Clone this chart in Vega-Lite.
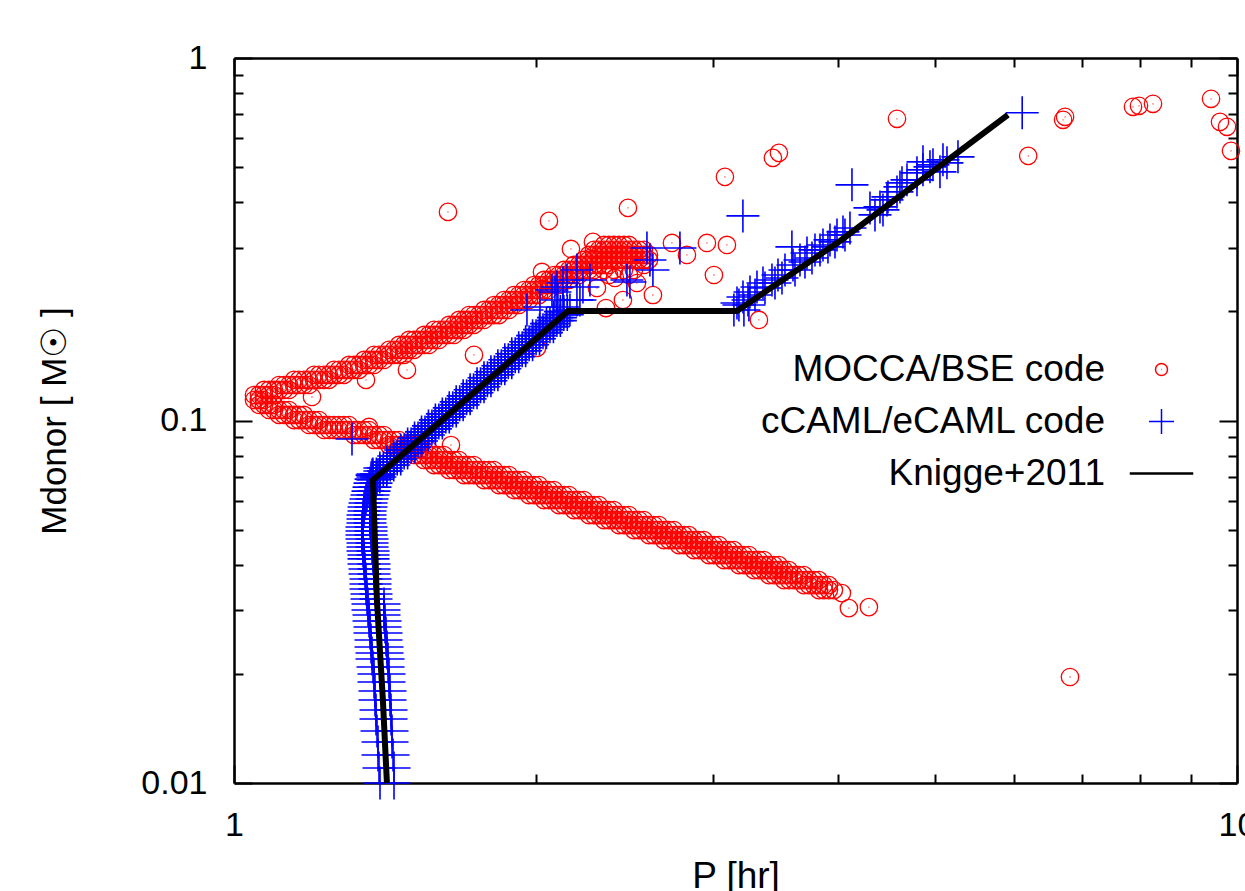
{
"$schema": "https://vega.github.io/schema/vega-lite/v6.json",
"width": 1003, "height": 725,
"autosize": {"type": "none"},
"padding": {"left": 234, "top": 58, "right": 8, "bottom": 108},
"background": "white",
"config": {
 "font": "Liberation Sans",
 "view": {"stroke": null},
 "axis": {"grid": false, "domainColor": "#000", "domainWidth": 2.5, "tickColor": "#000", "tickWidth": 2, "labelColor": "#000", "titleColor": "#000", "labelFont": "Liberation Sans", "titleFont": "Liberation Sans", "titleFontWeight": "normal", "labelFontSize": 34, "labelFlush": false, "labelOverlap": false},
 "legend": {"title": null, "orient": "none", "legendX": 529, "legendY": 293, "padding": 0, "labelFontSize": 37, "labelFont": "Liberation Sans", "labelColor": "#000", "labelLimit": 0, "rowPadding": 14, "labelAlign": "right", "symbolOffset": 380, "labelOffset": -75, "symbolSize": 400, "symbolStrokeWidth": 1.5, "symbolFillColor": "transparent"}
},
"datasets": {
"red": [
{"P":1.047,"M":0.1176},{"P":1.047,"M":0.1139},{"P":1.0591,"M":0.1139},{"P":1.0591,"M":0.1104},{"P":1.0713,"M":0.1139},{"P":1.0713,"M":0.1104},{"P":1.0837,"M":0.1104},{"P":1.0837,"M":0.1069},{"P":1.0962,"M":0.1104},{"P":1.0962,"M":0.1069},{"P":1.1088,"M":0.1069},{"P":1.1088,"M":0.1036},{"P":1.1216,"M":0.1069},{"P":1.1216,"M":0.1036},{"P":1.1346,"M":0.1069},{"P":1.1346,"M":0.1036},{"P":1.1477,"M":0.1036},{"P":1.1477,"M":0.1003},{"P":1.1609,"M":0.1036},{"P":1.1609,"M":0.1003},{"P":1.1743,"M":0.1036},{"P":1.1743,"M":0.1003},{"P":1.1879,"M":0.1003},{"P":1.1879,"M":0.09718},{"P":1.2016,"M":0.1003},{"P":1.2016,"M":0.09718},{"P":1.2154,"M":0.1003},{"P":1.2154,"M":0.09718},{"P":1.2295,"M":0.09718},{"P":1.2295,"M":0.09414},{"P":1.2437,"M":0.09718},{"P":1.2437,"M":0.09414},{"P":1.258,"M":0.09718},{"P":1.258,"M":0.09414},{"P":1.2725,"M":0.09718},{"P":1.2725,"M":0.09414},{"P":1.2872,"M":0.09718},{"P":1.2872,"M":0.09414},{"P":1.3021,"M":0.09718},{"P":1.3021,"M":0.09414},{"P":1.3171,"M":0.09414},{"P":1.3171,"M":0.09119},{"P":1.3323,"M":0.09414},{"P":1.3323,"M":0.09119},{"P":1.3477,"M":0.09414},{"P":1.3477,"M":0.09119},{"P":1.3633,"M":0.09414},{"P":1.3633,"M":0.09119},{"P":1.379,"M":0.09119},{"P":1.379,"M":0.08834},{"P":1.3949,"M":0.09119},{"P":1.3949,"M":0.08834},{"P":1.411,"M":0.09119},{"P":1.411,"M":0.08834},{"P":1.4273,"M":0.08834},{"P":1.4273,"M":0.08558},{"P":1.4438,"M":0.08834},{"P":1.4438,"M":0.08558},{"P":1.4604,"M":0.08834},{"P":1.4604,"M":0.08558},{"P":1.4604,"M":0.0829},{"P":1.4773,"M":0.08558},{"P":1.4773,"M":0.0829},{"P":1.4943,"M":0.08558},{"P":1.4943,"M":0.0829},
{"P":1.0591,"M":0.1176},{"P":1.0591,"M":0.1139},{"P":1.0713,"M":0.1214},{"P":1.0713,"M":0.1176},{"P":1.0837,"M":0.1214},{"P":1.0837,"M":0.1176},{"P":1.0962,"M":0.1214},{"P":1.0962,"M":0.1176},{"P":1.1088,"M":0.1253},{"P":1.1088,"M":0.1214},{"P":1.1216,"M":0.1253},{"P":1.1216,"M":0.1214},{"P":1.1346,"M":0.1253},{"P":1.1346,"M":0.1214},{"P":1.1477,"M":0.1294},{"P":1.1477,"M":0.1253},{"P":1.1609,"M":0.1294},{"P":1.1609,"M":0.1253},{"P":1.1743,"M":0.1294},{"P":1.1743,"M":0.1253},{"P":1.1879,"M":0.1294},{"P":1.1879,"M":0.1253},{"P":1.2016,"M":0.1336},{"P":1.2016,"M":0.1294},{"P":1.2154,"M":0.1336},{"P":1.2154,"M":0.1294},{"P":1.2295,"M":0.1336},{"P":1.2295,"M":0.1294},{"P":1.2437,"M":0.1336},{"P":1.2437,"M":0.1294},{"P":1.258,"M":0.1379},{"P":1.258,"M":0.1336},{"P":1.2725,"M":0.1379},{"P":1.2725,"M":0.1336},{"P":1.2872,"M":0.1379},{"P":1.2872,"M":0.1336},{"P":1.3021,"M":0.1423},{"P":1.3021,"M":0.1379},{"P":1.3171,"M":0.1423},{"P":1.3171,"M":0.1379},{"P":1.3323,"M":0.1423},{"P":1.3323,"M":0.1379},{"P":1.3477,"M":0.1469},{"P":1.3477,"M":0.1423},{"P":1.3633,"M":0.1469},{"P":1.3633,"M":0.1423},{"P":1.379,"M":0.1517},{"P":1.379,"M":0.1469},{"P":1.379,"M":0.1423},{"P":1.3949,"M":0.1517},{"P":1.3949,"M":0.1469},{"P":1.411,"M":0.1517},{"P":1.411,"M":0.1469},{"P":1.4273,"M":0.1566},{"P":1.4273,"M":0.1517},{"P":1.4438,"M":0.1566},{"P":1.4438,"M":0.1517},{"P":1.4604,"M":0.1616},{"P":1.4604,"M":0.1566},{"P":1.4604,"M":0.1517},{"P":1.4773,"M":0.1616},{"P":1.4773,"M":0.1566},{"P":1.4773,"M":0.1517},{"P":1.4943,"M":0.1668},{"P":1.4943,"M":0.1616},{"P":1.4943,"M":0.1566},{"P":1.5116,"M":0.1668},{"P":1.5116,"M":0.1616},{"P":1.5116,"M":0.1566},{"P":1.529,"M":0.1668},{"P":1.529,"M":0.1616},{"P":1.5467,"M":0.1722},{"P":1.5467,"M":0.1668},{"P":1.5467,"M":0.1616},{"P":1.5645,"M":0.1722},{"P":1.5645,"M":0.1668},{"P":1.5645,"M":0.1616},{"P":1.5826,"M":0.1778},{"P":1.5826,"M":0.1722},{"P":1.5826,"M":0.1668},{"P":1.6009,"M":0.1778},{"P":1.6009,"M":0.1722},{"P":1.6009,"M":0.1668},{"P":1.6193,"M":0.1778},{"P":1.6193,"M":0.1722},{"P":1.638,"M":0.1835},{"P":1.638,"M":0.1778},{"P":1.638,"M":0.1722},{"P":1.6569,"M":0.1835},{"P":1.6569,"M":0.1778},{"P":1.6569,"M":0.1722},{"P":1.6761,"M":0.1894},{"P":1.6761,"M":0.1835},{"P":1.6761,"M":0.1778},{"P":1.6954,"M":0.1894},{"P":1.6954,"M":0.1835},{"P":1.6954,"M":0.1778},{"P":1.715,"M":0.1954},{"P":1.715,"M":0.1894},{"P":1.715,"M":0.1835},{"P":1.7348,"M":0.1954},{"P":1.7348,"M":0.1894},{"P":1.7348,"M":0.1835},{"P":1.7548,"M":0.1954},{"P":1.7548,"M":0.1894},{"P":1.7751,"M":0.2018},{"P":1.7751,"M":0.1954},{"P":1.7751,"M":0.1894},{"P":1.7955,"M":0.2018},{"P":1.7955,"M":0.1954},{"P":1.8163,"M":0.2083},{"P":1.8163,"M":0.2018},{"P":1.8163,"M":0.1954},{"P":1.8372,"M":0.2083},{"P":1.8372,"M":0.2018},{"P":1.8372,"M":0.1954},{"P":1.8584,"M":0.215},{"P":1.8584,"M":0.2083},{"P":1.8584,"M":0.2018},{"P":1.8799,"M":0.215},{"P":1.8799,"M":0.2083},{"P":1.8799,"M":0.2018},{"P":1.9016,"M":0.2219},{"P":1.9016,"M":0.215},{"P":1.9016,"M":0.2083},{"P":1.9235,"M":0.2219},{"P":1.9235,"M":0.215},{"P":1.9235,"M":0.2083},{"P":1.9457,"M":0.2291},{"P":1.9457,"M":0.2219},{"P":1.9457,"M":0.215},{"P":1.9682,"M":0.2291},{"P":1.9682,"M":0.2219},{"P":1.9682,"M":0.215},{"P":1.9909,"M":0.2365},{"P":1.9909,"M":0.2291},{"P":1.9909,"M":0.2219},{"P":2.0139,"M":0.2365},{"P":2.0139,"M":0.2291},{"P":2.0139,"M":0.2219},{"P":2.0371,"M":0.2442},{"P":2.0371,"M":0.2365},{"P":2.0371,"M":0.2291},{"P":2.0607,"M":0.2442},{"P":2.0607,"M":0.2365},{"P":2.0607,"M":0.2291},{"P":2.0844,"M":0.252},{"P":2.0844,"M":0.2442},{"P":2.0844,"M":0.2365},{"P":2.1085,"M":0.252},{"P":2.1085,"M":0.2442},{"P":2.1085,"M":0.2365},{"P":2.1328,"M":0.2602},{"P":2.1328,"M":0.252},{"P":2.1328,"M":0.2442},{"P":2.1575,"M":0.2602},{"P":2.1575,"M":0.252},{"P":2.1575,"M":0.2442},{"P":2.1824,"M":0.2686},{"P":2.1824,"M":0.2602},{"P":2.1824,"M":0.252},{"P":2.2075,"M":0.2686},{"P":2.2075,"M":0.2602},{"P":2.2075,"M":0.252},{"P":2.233,"M":0.2773},{"P":2.233,"M":0.2686},{"P":2.233,"M":0.2602},{"P":2.2588,"M":0.2862},{"P":2.2588,"M":0.2773},{"P":2.2588,"M":0.2686},{"P":2.2588,"M":0.2602},{"P":2.2849,"M":0.2955},{"P":2.2849,"M":0.2862},{"P":2.2849,"M":0.2773},{"P":2.2849,"M":0.2686},{"P":2.2849,"M":0.2602},{"P":2.3112,"M":0.2955},{"P":2.3112,"M":0.2862},{"P":2.3112,"M":0.2773},{"P":2.3112,"M":0.2686},{"P":2.3379,"M":0.305},{"P":2.3379,"M":0.2955},{"P":2.3379,"M":0.2862},{"P":2.3379,"M":0.2773},{"P":2.3379,"M":0.2686},{"P":2.3379,"M":0.2602},{"P":2.3649,"M":0.305},{"P":2.3649,"M":0.2955},{"P":2.3649,"M":0.2862},{"P":2.3649,"M":0.2773},{"P":2.3649,"M":0.2686},{"P":2.3649,"M":0.252},{"P":2.3922,"M":0.305},{"P":2.3922,"M":0.2955},{"P":2.3922,"M":0.2862},{"P":2.3922,"M":0.2773},{"P":2.3922,"M":0.2602},{"P":2.4198,"M":0.305},{"P":2.4198,"M":0.2955},{"P":2.4198,"M":0.2862},{"P":2.4198,"M":0.2773},{"P":2.4478,"M":0.305},{"P":2.4478,"M":0.2955},{"P":2.4478,"M":0.2862},{"P":2.4478,"M":0.2773},{"P":2.4478,"M":0.2602},{"P":2.476,"M":0.305},{"P":2.476,"M":0.2955},{"P":2.476,"M":0.2862},{"P":2.476,"M":0.2773},{"P":2.476,"M":0.252},{"P":2.5046,"M":0.2955},{"P":2.5046,"M":0.2862},{"P":2.5046,"M":0.2773},{"P":2.5046,"M":0.2602},{"P":2.5335,"M":0.2955},{"P":2.5335,"M":0.2862},{"P":2.5335,"M":0.2773},{"P":2.5627,"M":0.2955},{"P":2.5627,"M":0.2862},{"P":2.5627,"M":0.2773},{"P":2.5627,"M":0.2686},{"P":2.5923,"M":0.2862},{"P":2.5923,"M":0.2773},
{"P":1.5116,"M":0.08558},{"P":1.5116,"M":0.0829},{"P":1.5116,"M":0.08031},{"P":1.529,"M":0.08558},{"P":1.529,"M":0.0829},{"P":1.529,"M":0.08031},{"P":1.5467,"M":0.0829},{"P":1.5467,"M":0.08031},{"P":1.5467,"M":0.0778},{"P":1.5645,"M":0.0829},{"P":1.5645,"M":0.08031},{"P":1.5645,"M":0.0778},{"P":1.5826,"M":0.08031},{"P":1.5826,"M":0.0778},{"P":1.5826,"M":0.07536},{"P":1.6009,"M":0.08031},{"P":1.6009,"M":0.0778},{"P":1.6009,"M":0.07536},{"P":1.6193,"M":0.08031},{"P":1.6193,"M":0.0778},{"P":1.6193,"M":0.07536},{"P":1.638,"M":0.0778},{"P":1.638,"M":0.07536},{"P":1.638,"M":0.07301},{"P":1.6569,"M":0.0778},{"P":1.6569,"M":0.07536},{"P":1.6569,"M":0.07301},{"P":1.6761,"M":0.0778},{"P":1.6761,"M":0.07536},{"P":1.6761,"M":0.07301},{"P":1.6954,"M":0.07536},{"P":1.6954,"M":0.07301},{"P":1.6954,"M":0.07072},{"P":1.715,"M":0.07536},{"P":1.715,"M":0.07301},{"P":1.715,"M":0.07072},{"P":1.7348,"M":0.07536},{"P":1.7348,"M":0.07301},{"P":1.7348,"M":0.07072},{"P":1.7548,"M":0.07301},{"P":1.7548,"M":0.07072},{"P":1.7751,"M":0.07301},{"P":1.7751,"M":0.07072},{"P":1.7751,"M":0.06851},{"P":1.7955,"M":0.07301},{"P":1.7955,"M":0.07072},{"P":1.7955,"M":0.06851},{"P":1.8163,"M":0.07301},{"P":1.8163,"M":0.07072},{"P":1.8163,"M":0.06851},{"P":1.8372,"M":0.07072},{"P":1.8372,"M":0.06851},{"P":1.8372,"M":0.06637},{"P":1.8584,"M":0.07072},{"P":1.8584,"M":0.06851},{"P":1.8584,"M":0.06637},{"P":1.8799,"M":0.07072},{"P":1.8799,"M":0.06851},{"P":1.8799,"M":0.06637},{"P":1.9016,"M":0.06851},{"P":1.9016,"M":0.06637},{"P":1.9016,"M":0.06429},{"P":1.9235,"M":0.06851},{"P":1.9235,"M":0.06637},{"P":1.9235,"M":0.06429},{"P":1.9457,"M":0.06851},{"P":1.9457,"M":0.06637},{"P":1.9457,"M":0.06429},{"P":1.9682,"M":0.06637},{"P":1.9682,"M":0.06429},{"P":1.9682,"M":0.06228},{"P":1.9909,"M":0.06637},{"P":1.9909,"M":0.06429},{"P":1.9909,"M":0.06228},{"P":2.0139,"M":0.06637},{"P":2.0139,"M":0.06429},{"P":2.0139,"M":0.06228},{"P":2.0371,"M":0.06429},{"P":2.0371,"M":0.06228},{"P":2.0371,"M":0.06033},{"P":2.0607,"M":0.06429},{"P":2.0607,"M":0.06228},{"P":2.0607,"M":0.06033},{"P":2.0844,"M":0.06429},{"P":2.0844,"M":0.06228},{"P":2.0844,"M":0.06033},{"P":2.1085,"M":0.06228},{"P":2.1085,"M":0.06033},{"P":2.1085,"M":0.05845},{"P":2.1328,"M":0.06228},{"P":2.1328,"M":0.06033},{"P":2.1328,"M":0.05845},{"P":2.1575,"M":0.06228},{"P":2.1575,"M":0.06033},{"P":2.1575,"M":0.05845},{"P":2.1824,"M":0.06033},{"P":2.1824,"M":0.05845},{"P":2.1824,"M":0.05662},{"P":2.2075,"M":0.06033},{"P":2.2075,"M":0.05845},{"P":2.2075,"M":0.05662},{"P":2.233,"M":0.06033},{"P":2.233,"M":0.05845},{"P":2.233,"M":0.05662},{"P":2.2588,"M":0.05845},{"P":2.2588,"M":0.05662},{"P":2.2588,"M":0.05485},{"P":2.2849,"M":0.05845},{"P":2.2849,"M":0.05662},{"P":2.2849,"M":0.05485},{"P":2.3112,"M":0.05845},{"P":2.3112,"M":0.05662},{"P":2.3112,"M":0.05485},{"P":2.3379,"M":0.05662},{"P":2.3379,"M":0.05485},{"P":2.3379,"M":0.05313},{"P":2.3649,"M":0.05662},{"P":2.3649,"M":0.05485},{"P":2.3649,"M":0.05313},{"P":2.3922,"M":0.05662},{"P":2.3922,"M":0.05485},{"P":2.3922,"M":0.05313},{"P":2.4198,"M":0.05485},{"P":2.4198,"M":0.05313},{"P":2.4198,"M":0.05147},{"P":2.4478,"M":0.05485},{"P":2.4478,"M":0.05313},{"P":2.4478,"M":0.05147},{"P":2.476,"M":0.05485},{"P":2.476,"M":0.05313},{"P":2.476,"M":0.05147},{"P":2.5046,"M":0.05313},{"P":2.5046,"M":0.05147},{"P":2.5046,"M":0.04986},{"P":2.5335,"M":0.05313},{"P":2.5335,"M":0.05147},{"P":2.5335,"M":0.04986},{"P":2.5627,"M":0.05313},{"P":2.5627,"M":0.05147},{"P":2.5627,"M":0.04986},{"P":2.5923,"M":0.05147},{"P":2.5923,"M":0.04986},{"P":2.5923,"M":0.0483},{"P":2.6222,"M":0.05147},{"P":2.6222,"M":0.04986},{"P":2.6222,"M":0.0483},{"P":2.6525,"M":0.05147},{"P":2.6525,"M":0.04986},{"P":2.6525,"M":0.0483},{"P":2.6831,"M":0.04986},{"P":2.6831,"M":0.0483},{"P":2.6831,"M":0.04679},{"P":2.7141,"M":0.04986},{"P":2.7141,"M":0.0483},{"P":2.7141,"M":0.04679},{"P":2.7454,"M":0.04986},{"P":2.7454,"M":0.0483},{"P":2.7454,"M":0.04679},{"P":2.7771,"M":0.0483},{"P":2.7771,"M":0.04679},{"P":2.7771,"M":0.04533},{"P":2.8092,"M":0.0483},{"P":2.8092,"M":0.04679},{"P":2.8092,"M":0.04533},{"P":2.8416,"M":0.0483},{"P":2.8416,"M":0.04679},{"P":2.8416,"M":0.04533},{"P":2.8744,"M":0.04679},{"P":2.8744,"M":0.04533},{"P":2.8744,"M":0.04391},{"P":2.9076,"M":0.04679},{"P":2.9076,"M":0.04533},{"P":2.9076,"M":0.04391},{"P":2.9411,"M":0.04679},{"P":2.9411,"M":0.04533},{"P":2.9411,"M":0.04391},{"P":2.9751,"M":0.04533},{"P":2.9751,"M":0.04391},{"P":2.9751,"M":0.04254},{"P":3.0094,"M":0.04533},{"P":3.0094,"M":0.04391},{"P":3.0094,"M":0.04254},{"P":3.0442,"M":0.04533},{"P":3.0442,"M":0.04391},{"P":3.0442,"M":0.04254},{"P":3.0793,"M":0.04391},{"P":3.0793,"M":0.04254},{"P":3.0793,"M":0.04121},{"P":3.1148,"M":0.04391},{"P":3.1148,"M":0.04254},{"P":3.1148,"M":0.04121},{"P":3.1508,"M":0.04391},{"P":3.1508,"M":0.04254},{"P":3.1508,"M":0.04121},{"P":3.1872,"M":0.04254},{"P":3.1872,"M":0.04121},{"P":3.1872,"M":0.03992},{"P":3.224,"M":0.04254},{"P":3.224,"M":0.04121},{"P":3.224,"M":0.03992},{"P":3.2612,"M":0.04254},{"P":3.2612,"M":0.04121},{"P":3.2612,"M":0.03992},{"P":3.2988,"M":0.04121},{"P":3.2988,"M":0.03992},{"P":3.2988,"M":0.03867},{"P":3.3369,"M":0.04121},{"P":3.3369,"M":0.03992},{"P":3.3369,"M":0.03867},{"P":3.3754,"M":0.04121},{"P":3.3754,"M":0.03992},{"P":3.3754,"M":0.03867},{"P":3.4144,"M":0.03992},{"P":3.4144,"M":0.03867},{"P":3.4144,"M":0.03746},{"P":3.4538,"M":0.03992},{"P":3.4538,"M":0.03867},{"P":3.4538,"M":0.03746},{"P":3.4936,"M":0.03992},{"P":3.4936,"M":0.03867},{"P":3.4936,"M":0.03746},{"P":3.534,"M":0.03867},{"P":3.534,"M":0.03746},{"P":3.534,"M":0.03629},{"P":3.5748,"M":0.03867},{"P":3.5748,"M":0.03746},{"P":3.5748,"M":0.03629},{"P":3.616,"M":0.03746},{"P":3.616,"M":0.03629},{"P":3.6578,"M":0.03746},{"P":3.6578,"M":0.03629},{"P":3.7,"M":0.03746},{"P":3.7,"M":0.03629},{"P":3.7,"M":0.03515},{"P":3.7427,"M":0.03629},{"P":3.7427,"M":0.03515},{"P":3.7859,"M":0.03629},{"P":3.7859,"M":0.03515},{"P":3.8296,"M":0.03629},{"P":3.8296,"M":0.03515},{"P":3.8296,"M":0.03405},{"P":3.8738,"M":0.03515},{"P":3.8738,"M":0.03405},{"P":3.9185,"M":0.03515},{"P":3.9185,"M":0.03405},{"P":3.9637,"M":0.03405},{"P":4.0372,"M":0.03341},{"P":4.1026,"M":0.03037},{"P":4.2953,"M":0.03057},
{"P":1.6343,"M":0.3762},{"P":2.0607,"M":0.3553},{"P":2.1674,"M":0.2973},{"P":2.2796,"M":0.3109},{"P":2.4703,"M":0.3859},{"P":3.0864,"M":0.47},{"P":3.4458,"M":0.5303},{"P":3.4936,"M":0.5474},{"P":2.7329,"M":0.3089},{"P":2.9615,"M":0.3089},{"P":3.1006,"M":0.305},{"P":3.0094,"M":0.252},{"P":2.8286,"M":0.2862},{"P":2.6162,"M":0.2219},{"P":2.4421,"M":0.215},{"P":2.3487,"M":0.2043},{"P":2.3006,"M":0.232},{"P":2.5219,"M":0.2395},{"P":2.3977,"M":0.2473},{"P":2.0278,"M":0.2569},{"P":2.0047,"M":0.1586},{"P":3.3369,"M":0.1894},{"P":4.5814,"M":0.6796},{"P":6.1918,"M":0.5371},{"P":6.7078,"M":0.6753},{"P":6.7386,"M":0.6883},{"P":7.876,"M":0.7335},{"P":7.985,"M":0.7381},{"P":8.246,"M":0.7476},{"P":9.421,"M":0.7717},{"P":9.617,"M":0.6667},{"P":9.773,"M":0.6459},{"P":9.863,"M":0.5545},{"P":6.8155,"M":0.019606},{"P":1.3539,"M":0.1294},{"P":1.4875,"M":0.1379},{"P":1.7348,"M":0.1517},{"P":1.1961,"M":0.1161},{"P":1.3633,"M":0.096},{"P":1.6456,"M":0.0856}
],
"blue": [
{"P":1.3982,"M":0.01},{"P":1.4439,"M":0.01},{"P":1.395,"M":0.011},{"P":1.4439,"M":0.011},{"P":1.3918,"M":0.01195},{"P":1.4406,"M":0.01195},{"P":1.3918,"M":0.01298},{"P":1.4373,"M":0.01298},{"P":1.3886,"M":0.01391},{"P":1.4373,"M":0.01391},{"P":1.3854,"M":0.01502},{"P":1.434,"M":0.01502},{"P":1.3854,"M":0.0159},{"P":1.434,"M":0.0159},{"P":1.3822,"M":0.01694},{"P":1.4307,"M":0.01694},{"P":1.3822,"M":0.01794},{"P":1.4307,"M":0.01794},{"P":1.3791,"M":0.01899},{"P":1.4274,"M":0.01899},{"P":1.3791,"M":0.01998},{"P":1.4274,"M":0.01998},{"P":1.3759,"M":0.02089},{"P":1.4242,"M":0.02089},{"P":1.3728,"M":0.02198},{"P":1.4242,"M":0.02198},{"P":1.3728,"M":0.02284},{"P":1.4209,"M":0.02284},{"P":1.3697,"M":0.02372},{"P":1.4209,"M":0.02372},{"P":1.3697,"M":0.0248},{"P":1.4176,"M":0.0248},{"P":1.3665,"M":0.02593},{"P":1.4176,"M":0.02593},{"P":1.3665,"M":0.02694},{"P":1.4144,"M":0.02694},{"P":1.3634,"M":0.02798},{"P":1.4144,"M":0.02798},{"P":1.3634,"M":0.02907},{"P":1.4111,"M":0.02907},{"P":1.3602,"M":0.03001},{"P":1.4111,"M":0.03001},{"P":1.3602,"M":0.03118},{"P":1.4111,"M":0.03118},
{"P":1.3571,"M":0.03218},{"P":1.3854,"M":0.03218},{"P":1.3571,"M":0.03322},{"P":1.3854,"M":0.03322},{"P":1.354,"M":0.0343},{"P":1.3822,"M":0.0343},{"P":1.354,"M":0.03541},{"P":1.3822,"M":0.03541},{"P":1.354,"M":0.03655},{"P":1.3822,"M":0.03655},{"P":1.3509,"M":0.03773},{"P":1.3791,"M":0.03773},{"P":1.3509,"M":0.03895},{"P":1.3791,"M":0.03895},{"P":1.3478,"M":0.04021},{"P":1.3791,"M":0.04021},{"P":1.3478,"M":0.04151},{"P":1.3759,"M":0.04151},{"P":1.3478,"M":0.04257},{"P":1.3759,"M":0.04257},{"P":1.3447,"M":0.04365},{"P":1.3759,"M":0.04365},{"P":1.3447,"M":0.04478},{"P":1.3728,"M":0.04478},{"P":1.3447,"M":0.04593},{"P":1.3728,"M":0.04593},{"P":1.3416,"M":0.04711},{"P":1.3728,"M":0.04711},{"P":1.3416,"M":0.04832},{"P":1.3697,"M":0.04832},{"P":1.3416,"M":0.04956},{"P":1.3697,"M":0.04956},{"P":1.3416,"M":0.05083},{"P":1.3697,"M":0.05083},{"P":1.3447,"M":0.05214},{"P":1.3665,"M":0.05214},{"P":1.3447,"M":0.05348},{"P":1.3665,"M":0.05348},{"P":1.3447,"M":0.05485},{"P":1.3665,"M":0.05485},{"P":1.3478,"M":0.05626},{"P":1.3665,"M":0.05626},{"P":1.3478,"M":0.05771},{"P":1.3697,"M":0.05771},{"P":1.3509,"M":0.05919},{"P":1.3697,"M":0.05919},{"P":1.354,"M":0.06071},{"P":1.3728,"M":0.06071},{"P":1.3571,"M":0.06227},{"P":1.3759,"M":0.06227},{"P":1.3602,"M":0.06387},{"P":1.3791,"M":0.06387},{"P":1.3634,"M":0.06551},{"P":1.3822,"M":0.06551},{"P":1.3665,"M":0.06719},{"P":1.3854,"M":0.06719},{"P":1.3697,"M":0.06892},{"P":1.3886,"M":0.06892},{"P":1.3728,"M":0.07069},{"P":1.3918,"M":0.07069},
{"P":1.3756,"M":0.0685},{"P":1.3866,"M":0.06982},{"P":1.3977,"M":0.07117},{"P":1.4089,"M":0.07254},{"P":1.4202,"M":0.07394},{"P":1.4315,"M":0.07537},{"P":1.443,"M":0.07682},{"P":1.4545,"M":0.0783},{"P":1.4662,"M":0.07981},{"P":1.4779,"M":0.08135},{"P":1.4897,"M":0.08292},{"P":1.5016,"M":0.08452},{"P":1.5136,"M":0.08615},{"P":1.5258,"M":0.08781},{"P":1.538,"M":0.08951},{"P":1.5503,"M":0.09124},{"P":1.5627,"M":0.093},{"P":1.5752,"M":0.09479},{"P":1.5878,"M":0.09662},{"P":1.6005,"M":0.09848},{"P":1.6133,"M":0.10038},{"P":1.6262,"M":0.10232},{"P":1.6392,"M":0.10429},{"P":1.6523,"M":0.1063},{"P":1.6655,"M":0.10835},{"P":1.6789,"M":0.11044},{"P":1.6923,"M":0.11257},{"P":1.7058,"M":0.11474},{"P":1.7195,"M":0.11696},{"P":1.7332,"M":0.11922},{"P":1.7471,"M":0.12152},{"P":1.7611,"M":0.12386},{"P":1.7752,"M":0.12625},{"P":1.7894,"M":0.12869},{"P":1.8037,"M":0.13117},{"P":1.8181,"M":0.1337},{"P":1.8327,"M":0.13628},{"P":1.8473,"M":0.13891},{"P":1.8621,"M":0.14159},{"P":1.877,"M":0.14432},{"P":1.892,"M":0.14711},{"P":1.9072,"M":0.14995},{"P":1.9224,"M":0.15284},{"P":1.9378,"M":0.15579},{"P":1.9533,"M":0.1588},{"P":1.9689,"M":0.16186},{"P":1.9847,"M":0.16498},{"P":2.0006,"M":0.16816},{"P":2.0166,"M":0.17141},{"P":2.0327,"M":0.17472},{"P":2.049,"M":0.17809},{"P":2.0654,"M":0.18153},{"P":2.0819,"M":0.18503},{"P":2.0986,"M":0.1886},{"P":2.1154,"M":0.19224},{"P":2.1323,"M":0.19595},{"P":2.1493,"M":0.19973},
{"P":1.3756,"M":0.06982},{"P":1.3866,"M":0.07117},{"P":1.3977,"M":0.07254},{"P":1.4089,"M":0.07394},{"P":1.4202,"M":0.07537},{"P":1.4315,"M":0.07682},{"P":1.443,"M":0.0783},{"P":1.4545,"M":0.07981},{"P":1.4662,"M":0.08135},{"P":1.4779,"M":0.08292},{"P":1.4897,"M":0.08452},{"P":1.5016,"M":0.08615},{"P":1.5136,"M":0.08781},{"P":1.5258,"M":0.08951},{"P":1.538,"M":0.09124},{"P":1.5503,"M":0.093},{"P":1.5627,"M":0.09479},{"P":1.5752,"M":0.09662},{"P":1.5878,"M":0.09848},{"P":1.6005,"M":0.10038},{"P":1.6133,"M":0.10232},{"P":1.6262,"M":0.10429},{"P":1.6392,"M":0.1063},{"P":1.6523,"M":0.10835},{"P":1.6655,"M":0.11044},{"P":1.6789,"M":0.11257},{"P":1.6923,"M":0.11474},{"P":1.7058,"M":0.11696},{"P":1.7195,"M":0.11922},{"P":1.7332,"M":0.12152},{"P":1.7471,"M":0.12386},{"P":1.7611,"M":0.12625},{"P":1.7752,"M":0.12869},{"P":1.7894,"M":0.13117},{"P":1.8037,"M":0.1337},{"P":1.8181,"M":0.13628},{"P":1.8327,"M":0.13891},{"P":1.8473,"M":0.14159},{"P":1.8621,"M":0.14432},{"P":1.877,"M":0.14711},{"P":1.892,"M":0.14995},{"P":1.9072,"M":0.15284},{"P":1.9224,"M":0.15579},{"P":1.9378,"M":0.1588},{"P":1.9533,"M":0.16186},{"P":1.9689,"M":0.16498},{"P":1.9847,"M":0.16816},{"P":2.0006,"M":0.17141},{"P":2.0166,"M":0.17472},{"P":2.0327,"M":0.17809},{"P":2.049,"M":0.18153},{"P":2.0654,"M":0.18503},{"P":2.0819,"M":0.1886},{"P":2.0986,"M":0.19224},{"P":2.1154,"M":0.19595},{"P":2.1323,"M":0.19973},
{"P":1.3756,"M":0.07117},{"P":1.3977,"M":0.07394},{"P":1.4202,"M":0.07682},{"P":1.443,"M":0.07981},{"P":1.4662,"M":0.08292},{"P":1.4897,"M":0.08615},{"P":1.5136,"M":0.08951},{"P":1.538,"M":0.093},{"P":1.5627,"M":0.09662},{"P":1.5878,"M":0.10038},{"P":1.6133,"M":0.10429},{"P":1.6392,"M":0.10835},{"P":1.6655,"M":0.11257},{"P":1.6923,"M":0.11696},{"P":1.7195,"M":0.12152},{"P":1.7471,"M":0.12625},{"P":1.7752,"M":0.13117},{"P":1.8037,"M":0.13628},{"P":1.8327,"M":0.14159},{"P":1.8621,"M":0.14711},{"P":1.892,"M":0.15284},{"P":1.9224,"M":0.1588},{"P":1.9533,"M":0.16498},{"P":1.9847,"M":0.17141},{"P":2.0166,"M":0.17809},{"P":2.049,"M":0.18503},{"P":2.0819,"M":0.19224},{"P":2.1154,"M":0.19973},
{"P":1.3977,"M":0.06982},{"P":1.4202,"M":0.07254},{"P":1.443,"M":0.07537},{"P":1.4662,"M":0.0783},{"P":1.4897,"M":0.08135},{"P":1.5136,"M":0.08452},{"P":1.538,"M":0.08781},{"P":1.5627,"M":0.09124},{"P":1.5878,"M":0.09479},{"P":1.6133,"M":0.09848},{"P":1.6392,"M":0.10232},{"P":1.6655,"M":0.1063},{"P":1.6923,"M":0.11044},{"P":1.7195,"M":0.11474},{"P":1.7471,"M":0.11922},{"P":1.7752,"M":0.12386},{"P":1.8037,"M":0.12869},{"P":1.8327,"M":0.1337},{"P":1.8621,"M":0.13891},{"P":1.892,"M":0.14432},{"P":1.9224,"M":0.14995},{"P":1.9533,"M":0.15579},{"P":1.9847,"M":0.16186},{"P":2.0166,"M":0.16816},{"P":2.049,"M":0.17472},{"P":2.0819,"M":0.18153},{"P":2.1154,"M":0.1886},{"P":2.1493,"M":0.19595},
{"P":1.3111,"M":0.0889},{"P":2.0749,"M":0.2291},{"P":2.1279,"M":0.2395},{"P":2.1974,"M":0.2602},{"P":2.264,"M":0.2442},{"P":2.2126,"M":0.215},{"P":2.1624,"M":0.2017},{"P":2.1037,"M":0.215},{"P":2.0185,"M":0.2056},{"P":2.2279,"M":0.2335},{"P":1.9592,"M":0.2017},{"P":2.0988,"M":0.2335},{"P":2.4817,"M":0.2411},{"P":2.6162,"M":0.2602},{"P":2.5805,"M":0.2992},{"P":2.7835,"M":0.2992},{"P":3.2165,"M":0.3668},{"P":3.5994,"M":0.3012},{"P":2.4647,"M":0.2442},{"P":2.5983,"M":0.2773},{"P":2.0892,"M":0.2262},{"P":2.1476,"M":0.2442},{"P":2.1974,"M":0.215},{"P":2.1279,"M":0.2056},
{"P":3.1508,"M":0.2018},{"P":3.1872,"M":0.2083},{"P":3.224,"M":0.2018},{"P":3.2612,"M":0.2083},{"P":3.1731,"M":0.2109},{"P":3.2171,"M":0.2191},{"P":3.2542,"M":0.215},{"P":3.2692,"M":0.2262},{"P":3.3069,"M":0.2219},{"P":3.3221,"M":0.2335},{"P":3.3682,"M":0.2395},{"P":3.3837,"M":0.232},{"P":3.4385,"M":0.2442},{"P":3.4623,"M":0.2395},{"P":3.4863,"M":0.252},{"P":3.5184,"M":0.2473},{"P":3.5427,"M":0.2602},{"P":3.6084,"M":0.2686},{"P":3.625,"M":0.2602},{"P":3.6668,"M":0.2773},{"P":3.7091,"M":0.2738},{"P":3.7262,"M":0.2899},{"P":3.7692,"M":0.2808},{"P":3.7953,"M":0.2955},{"P":3.8391,"M":0.2955},{"P":3.8656,"M":0.305},{"P":3.9101,"M":0.3012},{"P":3.9282,"M":0.3149},{"P":3.9736,"M":0.3109},{"P":3.9919,"M":0.325},{"P":4.0472,"M":0.3313},{"P":4.0658,"M":0.325},{"P":4.1128,"M":0.3398},{"P":4.1317,"M":0.4467},{"P":4.306,"M":0.3859},{"P":4.3557,"M":0.3691},{"P":4.406,"M":0.3884},{"P":4.4365,"M":0.381},{"P":4.4774,"M":0.406},{"P":4.4876,"M":0.4139},{"P":4.5814,"M":0.4272},{"P":4.613,"M":0.441},{"P":4.6342,"M":0.4524},{"P":4.6878,"M":0.4611},{"P":4.7966,"M":0.4611},{"P":4.7966,"M":0.4821},{"P":4.8631,"M":0.517},{"P":4.8631,"M":0.4914},{"P":4.9419,"M":0.5008},{"P":4.976,"M":0.5072},{"P":5.0566,"M":0.4852},{"P":5.0915,"M":0.5236},{"P":5.1385,"M":0.5137},{"P":5.27,"M":0.5337},{"P":6.1071,"M":0.706}
],
"knigge": [
{"i":0,"P":1.4206,"M":0.01},{"i":1,"P":1.4075,"M":0.01694},{"i":2,"P":1.3883,"M":0.03197},{"i":3,"P":1.3756,"M":0.0685},{"i":4,"P":2.153,"M":0.2005},{"i":5,"P":3.173,"M":0.2005},{"i":6,"P":4.02,"M":0.3128},{"i":7,"P":5.91,"M":0.6966}
]
},
"layer": [
{
 "data": {"name": "red"},
 "mark": {"type": "point", "filled": false, "opacity": 1, "size": 841, "strokeWidth": 1.3},
 "encoding": {
  "x": {"field": "P", "type": "quantitative", "scale": {"type": "log", "domain": [1, 10], "nice": false},
   "axis": {"orient": "bottom", "values": [1,2,3,4,5,6,7,8,9,10], "labelExpr": "datum.value == 1 ? '1' : datum.value == 10 ? '10' : ''", "tickSize": {"condition": {"test": "datum.value == 1 || datum.value == 10", "value": -18}, "value": -9}, "labelPadding": 43, "title": "P [hr]", "titleFontSize": 37, "titlePadding": 7}},
  "y": {"field": "M", "type": "quantitative", "scale": {"type": "log", "domain": [0.01, 1], "nice": false},
   "axis": {"orient": "left", "values": [0.01,0.02,0.03,0.04,0.05,0.06,0.07,0.08,0.09,0.1,0.2,0.3,0.4,0.5,0.6,0.7,0.8,0.9,1], "labelExpr": "datum.value == 0.01 ? '0.01' : datum.value == 0.1 ? '0.1' : datum.value == 1 ? '1' : ''", "tickSize": {"condition": {"test": "datum.value == 0.01 || datum.value == 0.1 || datum.value == 1", "value": -18}, "value": -9}, "labelPadding": 45, "title": "Mdonor [ M☉ ]", "titleFontSize": 35, "titlePadding": 68}},
  "color": {"datum": "MOCCA/BSE code", "type": "nominal",
   "scale": {"domain": ["MOCCA/BSE code", "cCAML/eCAML code", "Knigge+2011"], "range": ["#ff0000", "#0000ff", "#000000"]}},
  "shape": {"datum": "MOCCA/BSE code", "type": "nominal",
   "scale": {"domain": ["MOCCA/BSE code", "cCAML/eCAML code", "Knigge+2011"], "range": ["M-0.6,0A0.6,0.6,0,1,1,0.6,0A0.6,0.6,0,1,1,-0.6,0ZM-0.03,0L0.03,0", "M-1.25,0L1.25,0M0,-1.25L0,1.25", "M-3.1,-0.06L3.1,-0.06L3.1,0.06L-3.1,0.06Z"]}}
 }
},
{
 "data": {"name": "blue"},
 "mark": {"type": "point", "filled": false, "opacity": 1, "size": 697, "strokeWidth": 1.6},
 "encoding": {
  "x": {"field": "P", "type": "quantitative", "axis": null},
  "y": {"field": "M", "type": "quantitative", "axis": null},
  "color": {"datum": "cCAML/eCAML code", "type": "nominal"},
  "shape": {"datum": "cCAML/eCAML code", "type": "nominal"}
 }
},
{
 "data": {"name": "knigge"},
 "mark": {"type": "line", "opacity": 1, "strokeWidth": 6},
 "encoding": {
  "x": {"field": "P", "type": "quantitative",
   "axis": {"orient": "top", "values": [1,2,3,4,5,6,7,8,9,10], "labels": false, "title": null, "tickSize": {"condition": {"test": "datum.value == 1 || datum.value == 10", "value": -18}, "value": -9}}},
  "y": {"field": "M", "type": "quantitative",
   "axis": {"orient": "right", "values": [0.01,0.02,0.03,0.04,0.05,0.06,0.07,0.08,0.09,0.1,0.2,0.3,0.4,0.5,0.6,0.7,0.8,0.9,1], "labels": false, "title": null, "tickSize": {"condition": {"test": "datum.value == 0.01 || datum.value == 0.1 || datum.value == 1", "value": -18}, "value": -9}}},
  "order": {"field": "i", "type": "quantitative"},
  "color": {"datum": "Knigge+2011", "type": "nominal"}
 }
}
],
"resolve": {"axis": {"x": "independent", "y": "independent"}}
}
